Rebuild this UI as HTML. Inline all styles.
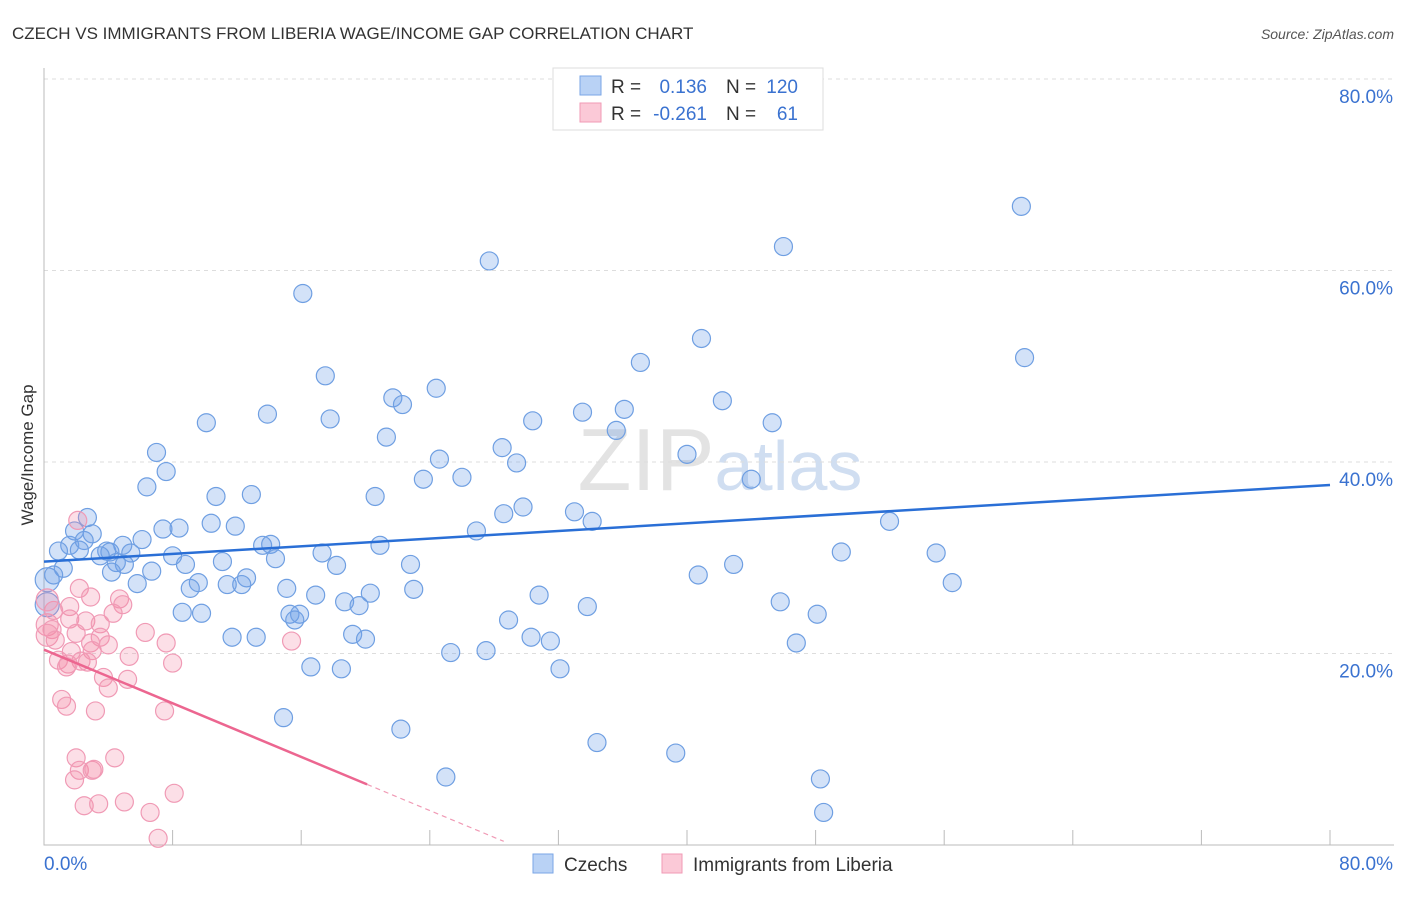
<!DOCTYPE html>
<html><head><meta charset="utf-8"><style>
body{margin:0;background:#fff;font-family:"Liberation Sans",sans-serif;}
svg text{font-family:"Liberation Sans",sans-serif;}
</style></head><body>
<svg id="chart" width="1406" height="892" xmlns="http://www.w3.org/2000/svg">
<text x="12" y="39" font-size="17" fill="#333">CZECH VS IMMIGRANTS FROM LIBERIA WAGE/INCOME GAP CORRELATION CHART</text>
<text x="1394" y="39" font-size="14" font-style="italic" fill="#555" text-anchor="end">Source: ZipAtlas.com</text>
<text x="720" y="490" font-size="88" fill="#ddd" text-anchor="middle" font-family="Liberation Serif" opacity="0.8">ZIP<tspan fill="#c5d6ee" font-family="Liberation Sans" font-size="70">atlas</tspan></text>
<g id="grid"></g>
<g id="axes"></g>
<g id="pts"></g>
<g id="lines"></g>
<text transform="translate(33,455) rotate(-90)" font-size="17" fill="#333" text-anchor="middle">Wage/Income Gap</text>
<g>
<rect x="553" y="68" width="270" height="62" fill="#fff" stroke="#ddd"/>
<rect x="580" y="76" width="21" height="19" fill="#b9d2f5" stroke="#7aa6e6"/>
<rect x="580" y="103" width="21" height="19" fill="#fbc9d7" stroke="#f09ab5"/>
<text x="611" y="93" font-size="19" fill="#333">R =</text><text x="707" y="93" font-size="19" fill="#3a72d0" text-anchor="end">0.136</text>
<text x="726" y="93" font-size="19" fill="#333">N =</text><text x="798" y="93" font-size="19" fill="#3a72d0" text-anchor="end">120</text>
<text x="611" y="120" font-size="19" fill="#333">R =</text><text x="707" y="120" font-size="19" fill="#3a72d0" text-anchor="end">-0.261</text>
<text x="726" y="120" font-size="19" fill="#333">N =</text><text x="798" y="120" font-size="19" fill="#3a72d0" text-anchor="end">61</text>
</g>
<g>
<rect x="533" y="854" width="20" height="19" fill="#b9d2f5" stroke="#7aa6e6"/>
<text x="564" y="871" font-size="19" fill="#333">Czechs</text>
<rect x="662" y="854" width="20" height="19" fill="#fbc9d7" stroke="#f09ab5"/>
<text x="693" y="871" font-size="19" fill="#333">Immigrants from Liberia</text>
</g>
</svg>
<script>
const yTicks=[20,40,60,80];
const yTickLabels=["20.0%","40.0%","60.0%","80.0%"];
const xTicks=[8,16,24,32,40,48,56,64,72,80];
const blueX=[60.8,46.0,27.7,16.1,40.9,61.0,37.1,17.5,24.4,21.7,22.3,42.2,36.1,33.5,13.9,17.8,10.1,30.4,45.3,35.6,21.3,7.0,28.5,40.0,24.6,29.4,7.6,26.0,23.6,44.0,6.4,10.7,12.9,20.6,29.8,28.6,33.0,34.1,52.6,2.7,10.4,11.9,7.4,8.4,1.9,3.0,26.9,6.1,4.9,1.6,2.5,13.6,14.1,20.9,5.4,0.9,2.2,3.9,4.1,3.5,8.0,17.3,49.6,55.5,14.4,11.1,8.8,5.0,4.5,18.2,22.8,42.9,1.2,4.2,6.7,40.7,0.6,12.6,9.6,5.8,56.5,12.3,11.4,9.1,15.1,23.0,20.3,16.9,30.8,18.7,19.6,45.8,33.8,8.6,9.8,15.3,15.9,48.1,15.6,28.9,11.7,13.2,19.2,20.0,30.3,31.5,46.8,27.5,25.3,16.6,18.5,32.1,14.9,22.2,34.4,39.3,25.0,48.3,48.5,0.2,0.2];
const blueY=[66.7,62.5,61.0,57.6,52.9,50.9,50.4,49.0,47.7,46.7,46.0,46.4,45.5,45.2,45.0,44.5,44.1,44.3,44.1,43.3,42.6,41.0,41.5,40.8,40.3,39.9,39.0,38.4,38.2,38.2,37.4,36.4,36.6,36.4,35.3,34.6,34.8,33.8,33.8,34.2,33.6,33.3,33.0,33.1,32.8,32.5,32.8,31.9,31.3,31.3,31.8,31.3,31.4,31.3,30.5,30.7,30.8,30.7,30.6,30.2,30.2,30.5,30.6,30.5,29.9,29.6,29.3,29.3,29.5,29.2,29.3,29.3,28.9,28.5,28.6,28.2,28.2,27.9,27.4,27.3,27.4,27.2,27.2,26.8,26.8,26.7,26.3,26.1,26.1,25.4,25.0,25.4,24.9,24.3,24.2,24.1,24.1,24.1,23.5,23.5,21.7,21.7,22.0,21.5,21.7,21.3,21.1,20.3,20.1,18.6,18.4,18.4,13.3,12.1,10.7,9.6,7.1,6.9,3.4,27.7,25.1];
const pinkX=[2.1,2.2,2.9,4.7,4.9,1.6,4.3,1.6,2.6,3.5,6.3,0.2,0.5,0.2,0.7,2.0,3.5,2.9,4.0,7.6,15.4,1.7,3.0,5.3,0.9,2.3,1.5,2.7,8.0,1.4,3.7,5.2,4.0,1.1,1.4,3.2,7.5,2.0,4.4,2.2,3.0,3.1,1.9,8.1,2.5,3.4,5.0,6.6,7.1,0.6,0.2];
const pinkY=[33.9,26.8,25.9,25.7,25.1,24.9,24.2,23.6,23.4,23.1,22.2,23.0,22.5,21.9,21.4,22.1,21.7,21.1,20.9,21.1,21.3,20.2,20.3,19.7,19.3,19.2,18.9,19.1,19.0,18.6,17.5,17.3,16.4,15.2,14.5,14.0,14.0,9.1,9.1,7.8,7.8,7.9,6.8,5.4,4.1,4.3,4.5,3.4,0.7,24.5,25.6];
const blueTrend=[29.6,37.6];       // y at x=0 and x=80
const pinkTrend=[20.4,-0.70];      // intercept, slope per %
const pinkSolidEnd=20.1, pinkDashEnd=28.6;

const NS="http://www.w3.org/2000/svg";
const X=v=>44+v*16.075, Y=v=>845-v*9.575;
function mk(tag,attrs,parent){const e=document.createElementNS(NS,tag);for(const k in attrs)e.setAttribute(k,attrs[k]);document.getElementById(parent).appendChild(e);return e;}
yTicks.forEach((t,i)=>{
  const g=mk('line',{x1:44,x2:1394,y1:Y(t),y2:Y(t),stroke:'#ddd','stroke-dasharray':'4,4'},'grid');
  
  
  const l=mk('text',{x:1393,y:Y(t)+24,'font-size':19,fill:'#3a72d0','text-anchor':'end'},'axes');l.textContent=yTickLabels[i];
  
  
});
xTicks.forEach(t=>{
  const l=mk('line',{x1:X(t),x2:X(t),y1:830,y2:845,stroke:'#bbb'},'axes');
  
  
});
const ax=mk('path',{d:'M44,68V845H1394',fill:'none',stroke:'#bbb'},'axes');


const x0=mk('text',{x:44,y:870,'font-size':19,fill:'#3a72d0'},'axes');x0.textContent='0.0%';


const x1=mk('text',{x:1393,y:870,'font-size':19,fill:'#3a72d0','text-anchor':'end'},'axes');x1.textContent='80.0%';


blueX.forEach((v,i)=>{
  const c=mk('circle',{cx:X(v),cy:Y(blueY[i]),r:(v<0.5?12:9),fill:'rgba(110,160,232,0.3)',stroke:'#6f9fe2','stroke-width':1.2},'pts');
  
  
});
pinkX.forEach((v,i)=>{
  const c=mk('circle',{cx:X(v),cy:Y(pinkY[i]),r:(v<0.3?11:9),fill:'rgba(245,140,170,0.28)',stroke:'#f09ab5','stroke-width':1.2},'pts');
  
  
});
const bl=mk('line',{x1:X(0),y1:Y(blueTrend[0]),x2:X(80),y2:Y(blueTrend[1]),stroke:'#2a6fd6','stroke-width':2.5},'lines');


const py=x=>pinkTrend[0]+pinkTrend[1]*x;
const pl=mk('line',{x1:X(0),y1:Y(py(0)),x2:X(pinkSolidEnd),y2:Y(py(pinkSolidEnd)),stroke:'#ec6690','stroke-width':2.5},'lines');


const pd=mk('line',{x1:X(pinkSolidEnd),y1:Y(py(pinkSolidEnd)),x2:X(pinkDashEnd),y2:Y(py(pinkDashEnd)),stroke:'#f09ab5','stroke-width':1.2,'stroke-dasharray':'5,4'},'lines');


</script>
</body></html>
